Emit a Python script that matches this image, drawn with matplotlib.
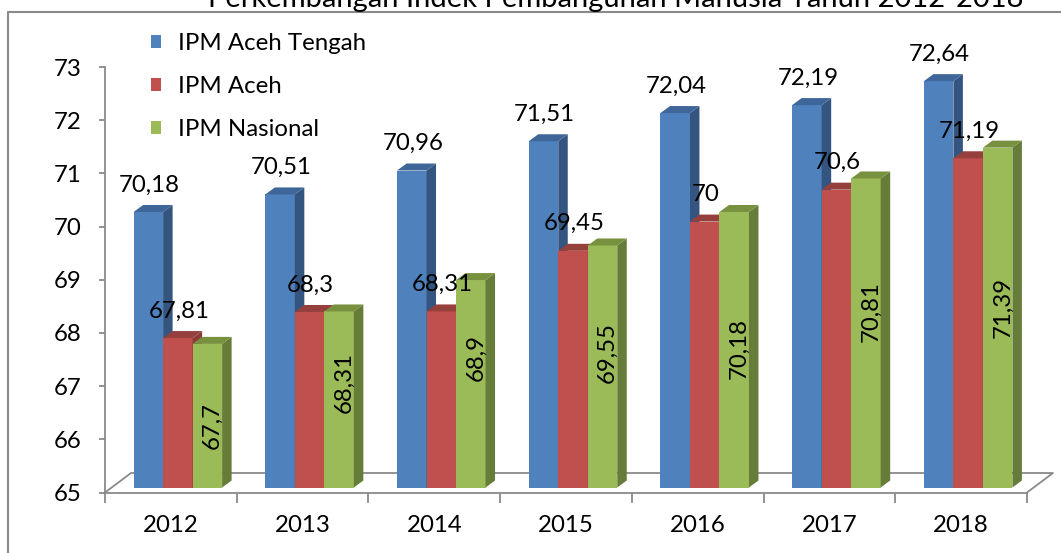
import matplotlib
matplotlib.use('Agg')
import matplotlib.pyplot as plt
from matplotlib.patches import Polygon, Patch
from matplotlib.lines import Line2D
from matplotlib.transforms import IdentityTransform, ScaledTranslation

# Data IPM 2012-2018
tahun = ['2012', '2013', '2014', '2015', '2016', '2017', '2018']
ipm_aceh_tengah = [70.18, 70.51, 70.96, 71.51, 72.04, 72.19, 72.64]
ipm_aceh = [67.81, 68.3, 68.31, 69.45, 70.0, 70.6, 71.19]
ipm_nasional = [67.7, 68.31, 68.9, 69.55, 70.18, 70.81, 71.39]
nama_seri = ['IPM Aceh Tengah', 'IPM Aceh', 'IPM Nasional']
judul = 'Perkembangan Indek Pembangunan Manusia Tahun 2012-2018'

# tinggi label seri nasional (tulisan tegak di dalam batang)
posisi_label_nasional = [66.17, 66.98, 67.45, 67.54, 67.62, 68.30, 68.39]

W, H, DPI = 1061, 553, 100
plt.rcParams['font.family'] = ['Lato', 'DejaVu Sans']
FS = 17.3
ABU = '#8a8a8a'

fig = plt.figure(figsize=(W / DPI, H / DPI), dpi=DPI)

# sumbu: 65 di y=492.5 px, 73 di y=67 px
x0, x1, y0, y1 = 105, 1027, 492.5, 67
ax = fig.add_axes([x0 / W, 1 - y0 / H, (x1 - x0) / W, (y0 - y1) / H])
ax.set_xlim(0, 7)
ax.set_ylim(65, 73)
ax.patch.set_visible(False)

# efek 3D (piksel)
FX, FY = 7, 5        # muka depan batang digeser dari tepi depan lantai
DX, DY = 9.5, 7      # kedalaman batang
BX, BY = 26, 19.5    # kedalaman lantai

trans_depan = ax.transData + ScaledTranslation(FX / DPI, FY / DPI, fig.dpi_scale_trans)


def px(x, y, dx=0, dy=0):
    p = ax.transData.transform((x, y))
    return (p[0] + dx, p[1] + dy)


# lantai
lantai = [px(0, 65), px(0, 65, BX, BY), px(7, 65, BX, BY), px(7, 65)]
ax.add_line(Line2D([p[0] for p in lantai], [p[1] for p in lantai],
                   transform=IdentityTransform(), color=ABU, lw=1.3,
                   clip_on=False, zorder=1))

w = 0.224
seri = [ipm_aceh_tengah, ipm_aceh, ipm_nasional]
warna_depan = ['#4F81BD', '#C0504D', '#9BBB59']
warna_samping = ['#34557F', '#8A3A38', '#667C39']
warna_atas = ['#3F6699', '#96403D', '#78913F']

for j, nilai in enumerate(seri):
    pos = [i + 0.5 - 1.5 * w + j * w for i in range(len(tahun))]
    tinggi = [v - 65 for v in nilai]
    ax.bar(pos, tinggi, width=w, bottom=65, align='edge', color=warna_depan[j],
           lw=0, transform=trans_depan, zorder=2 + j, clip_on=False)
    for kiri, v in zip(pos, nilai):
        kanan = kiri + w
        b = px(kanan, 65, FX, FY)
        c = px(kanan, v, FX, FY)
        d = px(kiri, v, FX, FY)
        samping = [b, (b[0] + DX, b[1] + DY), (c[0] + DX, c[1] + DY), c]
        atas = [d, c, (c[0] + DX, c[1] + DY), (d[0] + DX, d[1] + DY)]
        ax.add_patch(Polygon(samping, closed=True, transform=IdentityTransform(),
                             facecolor=warna_samping[j], lw=0, zorder=2 + j,
                             clip_on=False))
        ax.add_patch(Polygon(atas, closed=True, transform=IdentityTransform(),
                             facecolor=warna_atas[j], lw=0, zorder=2 + j,
                             clip_on=False))


def teks(v):
    return '{:g}'.format(v).replace('.', ',')


# label data
for j in (0, 1):
    for i, v in enumerate(seri[j]):
        xc = i + 0.5 - 1.5 * w + (j + 0.5) * w
        ax.annotate(teks(v), xy=(xc, v), xycoords=trans_depan,
                    xytext=(1, 27), textcoords='offset pixels',
                    ha='center', va='center', fontsize=FS, zorder=10)

trans_label = trans_depan + ScaledTranslation(5 / DPI, 0, fig.dpi_scale_trans)
for i, v in enumerate(ipm_nasional):
    xc = i + 0.5 + w
    ax.text(xc, posisi_label_nasional[i], teks(v), transform=trans_label,
            rotation=90, ha='center', va='center', fontsize=FS, zorder=10)

# sumbu
for s in ('top', 'right'):
    ax.spines[s].set_visible(False)
for s in ('left', 'bottom'):
    ax.spines[s].set_color(ABU)
    ax.spines[s].set_linewidth(1.3)
    ax.spines[s].set_zorder(1)

ax.set_yticks(range(65, 74))
ax.tick_params(axis='y', length=4, width=1.3, color=ABU, pad=13,
               labelsize=FS)
ax.set_xticks([i + 0.5 for i in range(len(tahun))])
ax.set_xticklabels(tahun)
ax.set_xticks(range(len(tahun) + 1), minor=True)
ax.tick_params(axis='x', which='major', length=0, pad=16, labelsize=FS)
ax.tick_params(axis='x', which='minor', length=7, width=1.3, color=ABU)

# legenda
handles = [Patch(facecolor=c, lw=0) for c in warna_depan]
fig.legend(handles, nama_seri, loc='upper left',
           bbox_to_anchor=(151 / W, 1 - 33 / H), frameon=False,
           fontsize=FS, handlelength=0.43, handleheight=0.43,
           handletextpad=0.7, labelspacing=0.92, borderpad=0,
           borderaxespad=0)

# judul (terpotong di tepi atas seperti aslinya)
fig.text(616 / W, 1 - 7 / H, judul, ha='center', va='baseline', fontsize=21)

# bingkai
fig.add_artist(Line2D([8 / W, 8 / W, 1], [0, 1 - 12 / H, 1 - 12 / H],
                      transform=fig.transFigure, color=ABU, lw=1.5))

fig.savefig('out.png', dpi=DPI)
